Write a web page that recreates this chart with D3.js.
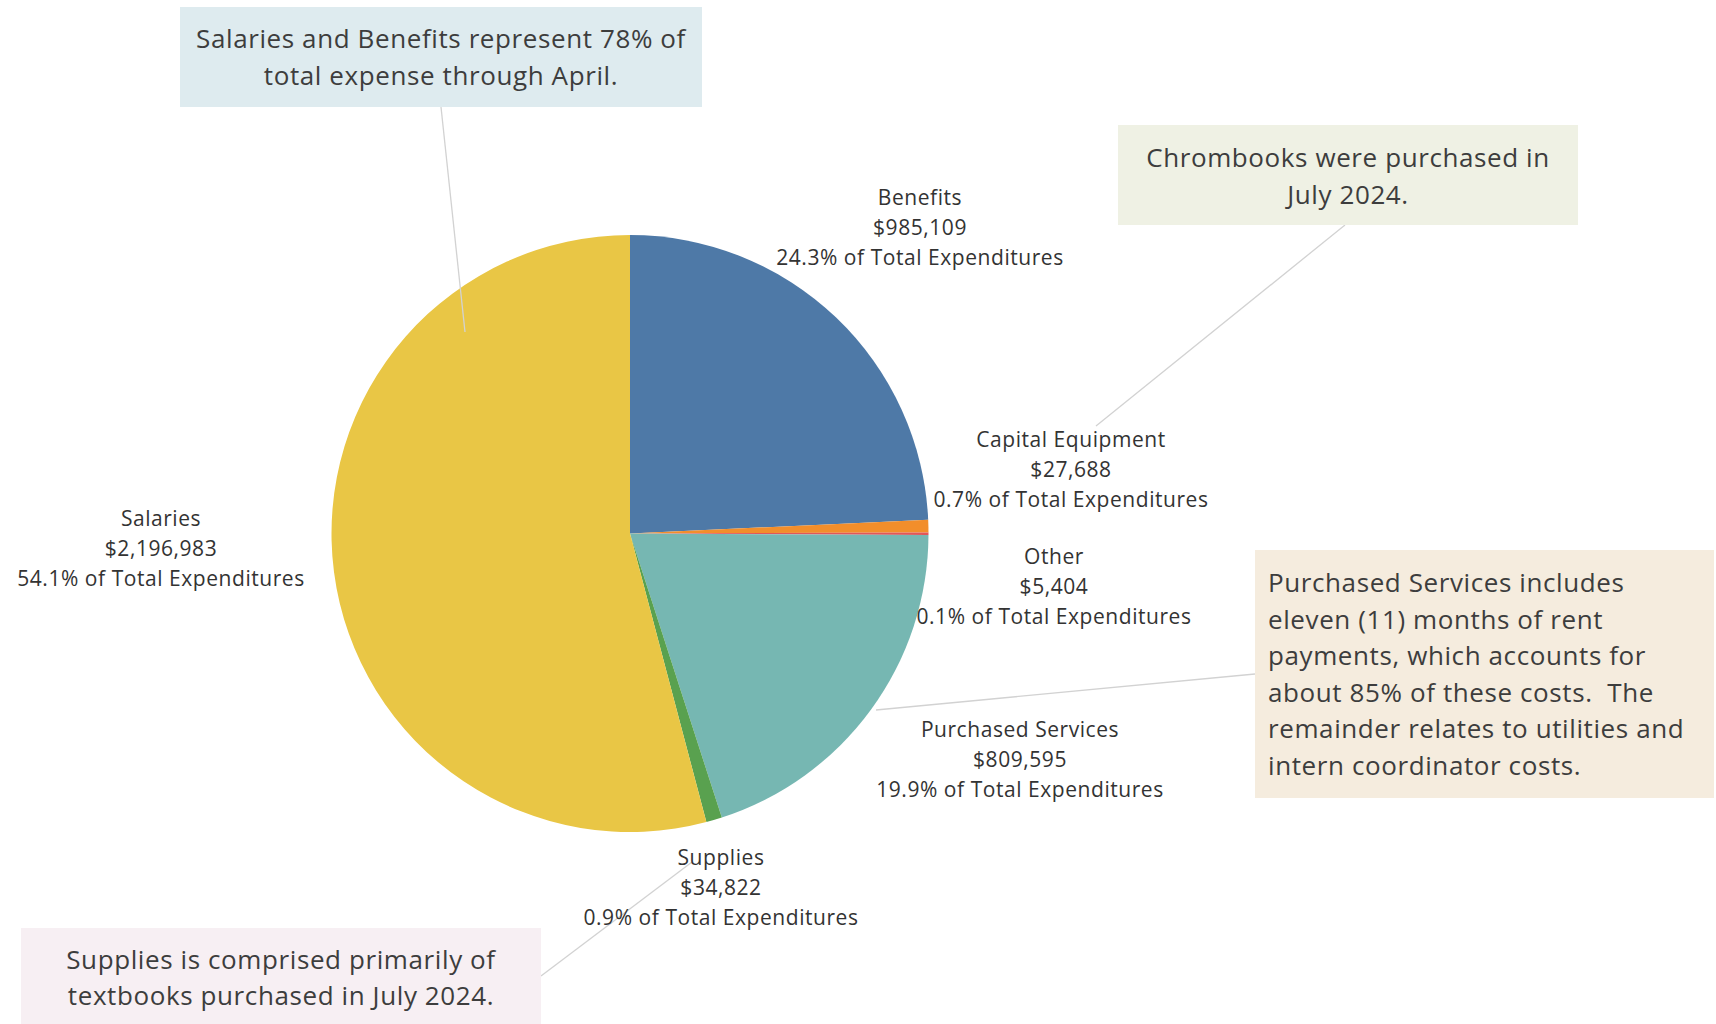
<!DOCTYPE html>
<html><head><meta charset="utf-8">
<script src="https://cdn.jsdelivr.net/npm/d3@7"></script>
<style>body{margin:0;background:#fff;} svg{display:block;}</style>
</head><body><div id="chart"></div>
<script>
// ---- data ----
const categories = ["Benefits", "Capital Equipment", "Other", "Purchased Services", "Supplies", "Salaries"];
const values = [985109, 27688, 5404, 809595, 34822, 2196983];
const sliceColors = ["#4e79a7", "#f28e2b", "#e15759", "#76b7b2", "#59a14f", "#e9c645"];
const noteTexts = [
  ["Salaries and Benefits represent 78% of", "total expense through April."],
  ["Chrombooks were purchased in", "July 2024."],
  ["Purchased Services includes", "eleven (11) months of rent", "payments, which accounts for", "about 85% of these costs.  The", "remainder relates to utilities and", "intern coordinator costs."],
  ["Supplies is comprised primarily of", "textbooks purchased in July 2024."]
];

// ---- layout ----
const W = 1716, H = 1024;
const cx = 630, cy = 533.5, R = 298.5;
const labelFont = 21, labelLH = 30, labelLS = 0.55;
const noteFont = 26, noteLH = 36.6, noteLS = 0.6;
const labelPos = {
  "Benefits": [920, 198],
  "Capital Equipment": [1071, 440],
  "Other": [1054, 557],
  "Purchased Services": [1020, 730],
  "Supplies": [721, 858],
  "Salaries": [161, 519]
};
const noteLayout = [
  {x: 180, y: 7, w: 522, h: 100, fill: "#deebef", align: "middle", base: 48, leader: [[441, 107], [465, 332]]},
  {x: 1118, y: 125, w: 460, h: 100, fill: "#eff1e4", align: "middle", base: 167, leader: [[1345, 225], [1096, 426]]},
  {x: 1255, y: 550, w: 459, h: 248, fill: "#f5ecde", align: "start", base: 592, leader: [[1255, 674], [876, 710]]},
  {x: 21, y: 928, w: 520, h: 96, fill: "#f7eff3", align: "middle", base: 968.5, leader: [[541, 976], [692, 862]]}
];

const svg = d3.select("#chart").append("svg").attr("width", W).attr("height", H)
  .style("font-family", "'Open Sans', 'Noto Sans', sans-serif");

const total = d3.sum(values);
const data = categories.map((c, i) => ({cat: c, value: values[i], color: sliceColors[i]}));
const pie = d3.pie().sort(null).value(d => d.value);
const arc = d3.arc().innerRadius(0).outerRadius(R);

// pie
svg.append("g").attr("transform", `translate(${cx},${cy})`)
  .selectAll("path").data(pie(data)).join("path")
  .attr("d", arc).attr("fill", d => d.data.color);

// leader lines
noteLayout.forEach(n => {
  svg.append("line")
    .attr("x1", n.leader[0][0]).attr("y1", n.leader[0][1])
    .attr("x2", n.leader[1][0]).attr("y2", n.leader[1][1])
    .attr("stroke", "#d2d2d2").attr("stroke-width", 1.3);
});

// slice labels
const fmt = d3.format("$,");
const pct = d3.format(".1%");
const gLab = svg.append("g").attr("fill", "#333").attr("font-size", labelFont)
  .attr("letter-spacing", labelLS).attr("text-anchor", "middle");
data.forEach(d => {
  const [x, y] = labelPos[d.cat];
  const lines = [d.cat, fmt(d.value), pct(d.value / total) + " of Total Expenditures"];
  const t = gLab.append("text");
  lines.forEach((l, i) => {
    t.append("tspan").attr("x", x).attr("y", y + i * labelLH + labelFont * 0.35).text(l);
  });
});

// annotation boxes
noteLayout.forEach((n, k) => {
  const g = svg.append("g");
  g.append("rect").attr("x", n.x).attr("y", n.y).attr("width", n.w).attr("height", n.h).attr("fill", n.fill);
  const tx = n.align === "middle" ? n.x + n.w / 2 : n.x + 13;
  const t = g.append("text").attr("fill", "#3d3d3d").attr("font-size", noteFont)
    .attr("letter-spacing", noteLS).attr("text-anchor", n.align).style("white-space", "pre");
  noteTexts[k].forEach((l, i) => {
    t.append("tspan").attr("x", tx).attr("y", n.base + i * noteLH).text(l);
  });
});
</script></body></html>
